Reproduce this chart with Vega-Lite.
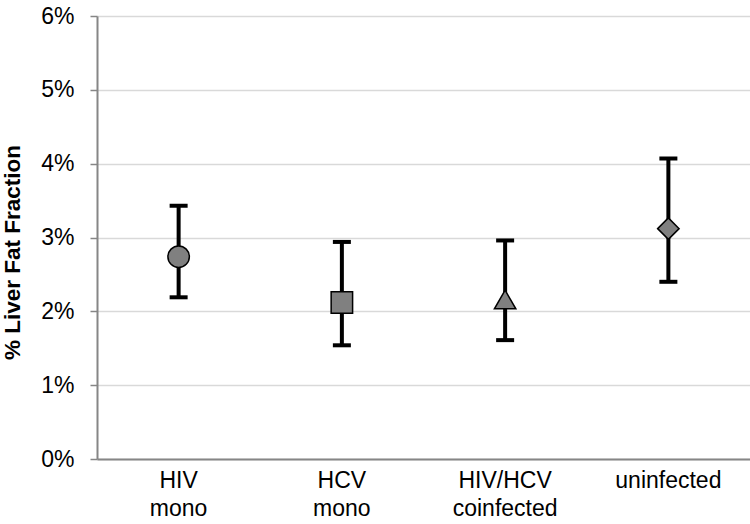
{
  "$schema": "https://vega.github.io/schema/vega-lite/v6.json",
  "width": 653,
  "height": 443,
  "autosize": "none",
  "padding": {"left": 97, "top": 16, "right": 0, "bottom": 65},
  "background": "white",
  "config": {"view": {"stroke": null}, "font": "Liberation Sans"},
  "data": {
    "values": [
      {"group": "HIV mono", "mean": 0.0274, "hi": 0.0343, "lo": 0.0219},
      {"group": "HCV mono", "mean": 0.0212, "hi": 0.0294, "lo": 0.0154},
      {"group": "HIV/HCV coinfected", "mean": 0.0216, "hi": 0.0296, "lo": 0.0161},
      {"group": "uninfected", "mean": 0.0312, "hi": 0.0407, "lo": 0.0240}
    ]
  },
  "encoding": {
    "x": {
      "field": "group",
      "type": "nominal",
      "sort": null,
      "scale": {"paddingInner": 0, "paddingOuter": 0},
      "axis": {
        "title": null,
        "labelAngle": 0,
        "labelFontSize": 23,
        "labelColor": "black",
        "labelLineHeight": 28.5,
        "labelPadding": 10,
        "ticks": false,
        "domainColor": "#868686",
        "domainWidth": 2,
        "labelExpr": "split(datum.value, ' ')"
      }
    }
  },
  "layer": [
    {
      "mark": {"type": "rule", "color": "black", "strokeWidth": 4},
      "encoding": {
        "y": {
          "field": "lo",
          "type": "quantitative",
          "scale": {"domain": [0, 0.06], "nice": false},
          "axis": {
            "values": [0, 0.01, 0.02, 0.03, 0.04, 0.05, 0.06],
            "format": ".0%",
            "labelFontSize": 23,
            "labelColor": "black",
            "labelPadding": 16,
            "tickSize": 7,
            "tickColor": "#868686",
            "tickWidth": 1.5,
            "domainColor": "#868686",
            "domainWidth": 2,
            "gridColor": "#d9d9d9",
            "gridWidth": 1.5,
            "title": "% Liver Fat Fraction",
            "titleFontSize": 22.5,
            "titleFontWeight": "bold",
            "titleColor": "black",
            "titleAngle": -90,
            "titleX": -85,
            "titleY": 236,
            "titleAlign": "center",
            "titleBaseline": "middle"
          }
        },
        "y2": {"field": "hi"}
      }
    },
    {
      "mark": {"type": "tick", "color": "black", "thickness": 4, "size": 18, "opacity": 1},
      "encoding": {"y": {"field": "hi", "type": "quantitative"}}
    },
    {
      "mark": {"type": "tick", "color": "black", "thickness": 4, "size": 18, "opacity": 1},
      "encoding": {"y": {"field": "lo", "type": "quantitative"}}
    },
    {
      "mark": {"type": "point", "filled": true, "fill": "#808080", "stroke": "black", "strokeWidth": 1.5, "size": 460, "opacity": 1, "fillOpacity": 1},
      "encoding": {
        "y": {"field": "mean", "type": "quantitative"},
        "shape": {
          "field": "group",
          "type": "nominal",
          "scale": {
            "domain": ["HIV mono", "HCV mono", "HIV/HCV coinfected", "uninfected"],
            "range": ["circle", "square", "triangle-up", "diamond"]
          },
          "legend": null
        }
      }
    }
  ]
}
